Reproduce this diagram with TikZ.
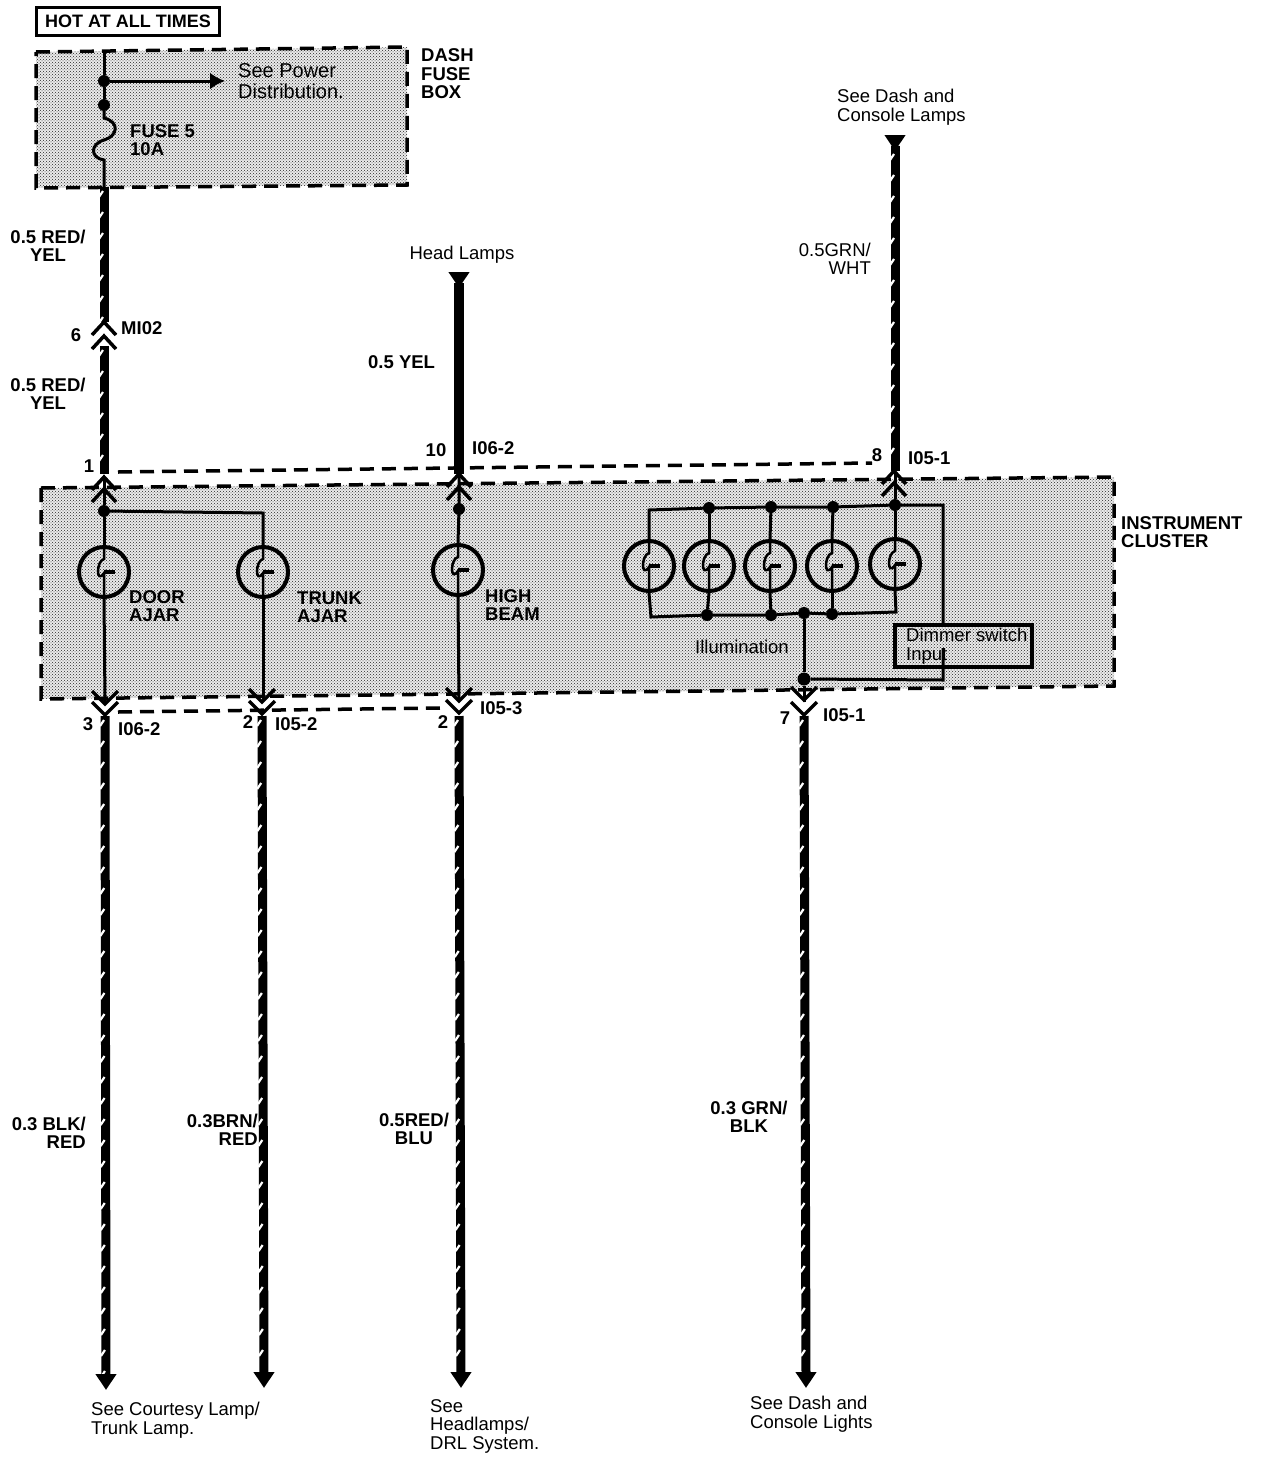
\documentclass[tikz,border=0pt]{standalone}
\usepackage{fontspec}
\setmainfont{Liberation Sans}
\usetikzlibrary{arrows.meta,patterns,decorations.markings}
\tikzset{
	lab/.style={font=\fontsize{18.5}{18.5}\selectfont, inner sep=0pt, align=left},
	blab/.style={lab, font=\fontsize{18.5}{18.5}\selectfont\bfseries},
	shade/.style={preaction={fill=black!8}, pattern=crosshatch dots, pattern color=black!85},
	border/.style={line width=3.5pt, dash pattern=on 14pt off 8pt},
	wire/.style={line width=3pt},
	twisted/.style={line width=9pt, postaction={decorate, decoration={markings,
		mark=between positions 8pt and 1 step 21pt with {\draw[white, line width=2.2pt] (-4pt,-1pt) -- (2pt,-5pt);}}}},
	solidwire/.style={line width=10pt},
	tipend/.style={line width=9pt, -{Triangle[width=20pt,length=16pt]}},
	tipstart/.style={line width=9pt, {Triangle[reversed,width=20pt,length=16pt]}-},
	joint/.style={circle, fill=black, inner sep=0pt, minimum size=12pt},
	lamp/.style={circle, draw, line width=4pt, inner sep=0pt, minimum size=50pt},
	chev/.style={line width=3.5pt}
}
\begin{document}
\begin{tikzpicture}[x=1pt,y=-1pt]
	\useasboundingbox (0,0) rectangle (1264,1462);
	% shaded boxes
	\draw[border, shade] (36,52) -- (407,47) -- (407,185) -- (36,188) -- cycle;
	\draw[border, shade] (41,488) -- (1114,477) -- (1114,686) -- (41,699) -- cycle;
	\draw[border] (118,472) -- (872,463);
	\draw[border] (118,712) -- (442,708);
	\node[draw, line width=3pt, inner sep=0pt, minimum width=183pt, minimum height=28pt, font=\fontsize{18}{18}\selectfont\bfseries] (hot) at (128,21) {HOT AT ALL TIMES};

	% fuse box
	\coordinate (feedtop) at (104,50);
	\node[joint] (feedj) at (104,81) {};
	\node[joint] (fusej) at (104,105) {};
	\coordinate (fuseend) at (104,160);
	\coordinate (boxout) at (104,187);
	\coordinate (powerend) at (225,81);
	\draw[wire] (feedtop) -- (feedj) -- (fusej);
	\draw[wire, -{Latex[length=15pt,width=17pt]}] (feedj) -- (powerend);
	\draw[wire] (fusej) -- (104,118) .. controls (120,122) and (118,136) .. (104,140) .. controls (90,144) and (90,158) .. (fuseend) -- (boxout);

	% lamps
	\node[lamp] (door) at (104,572) {};
	\node[lamp] (trunk) at (263,572) {};
	\node[lamp] (high) at (458,570) {};
	\node[lamp] (illa) at (649,566) {};
	\node[lamp] (illb) at (709,566) {};
	\node[lamp] (illc) at (770,566) {};
	\node[lamp] (illd) at (832,566) {};
	\node[lamp] (ille) at (895,564) {};
	\foreach \l in {door,trunk,high,illa,illb,illc,illd,ille} {
		\draw[line width=2.5pt] (\l.north) -- ++(0,14) .. controls +(-8,2) and +(-8,12) .. ++(0,14) -- (\l.south);
		\draw[line width=4pt] (\l.center) -- ++(11,0);
	}

	% connector pins, upper then lower
	\foreach \x/\y in {104/322,104/336,104/477,104/489,459/474,459/487,894/471,894/483}
		\draw[chev] (\x-12,\y+13) -- (\x,\y) -- (\x+12,\y+13);
	\foreach \x/\y in {105/704,105/715,262/702,262/714,459/701,459/713,804/700,804/715}
		\draw[chev] (\x-13,\y-13) -- (\x,\y) -- (\x+13,\y-13);

	% wires in the cluster
	\node[joint] (doorj) at (104,511) {};
	\node[joint] (highj) at (459,509) {};
	\coordinate (doorin) at (104,478);
	\coordinate (doorout) at (105,702);
	\coordinate (trunkcor) at (263,513);
	\coordinate (trunkout) at (263,701);
	\coordinate (highin) at (459,476);
	\coordinate (highout) at (459,700);
	\draw[wire] (doorin) -- (doorj) -- (door.north);
	\draw[wire] (door.south) -- (doorout);
	\draw[wire] (doorj) -- (trunkcor) -- (trunk.north);
	\draw[wire] (trunk.south) -- (trunkout);
	\draw[wire] (highin) -- (highj) -- (high.north);
	\draw[wire] (high.south) -- (highout);

	\node[joint] (topb) at (709,508) {};
	\node[joint] (topc) at (771,507) {};
	\node[joint] (topd) at (833,507) {};
	\node[joint] (tope) at (895,505) {};
	\node[joint] (lowb) at (707,615) {};
	\node[joint] (lowc) at (771,615) {};
	\node[joint] (lowm) at (804,613) {};
	\node[joint] (lowd) at (832,614) {};
	\node[joint, minimum size=13pt] (illj) at (804,679) {};
	\coordinate (illin) at (895,472);
	\coordinate (illout) at (804,702);
	\coordinate (topleft) at (649,510);
	\coordinate (topright) at (943,505);
	\coordinate (lowleft) at (651,617);
	\coordinate (lowright) at (896,612);
	\coordinate (dimtop) at (943,625);
	\coordinate (dimlow) at (943,648);
	\coordinate (dimcor) at (943,680);
	\draw[wire] (illa.north) -- (topleft) -- (topb) -- (topc) -- (topd) -- (tope) -- (topright) -- (dimtop);
	\draw[wire] (dimlow) -- (dimcor) -- (illj);
	\draw[wire] (illin) -- (tope) -- (ille.north);
	\draw[wire] (topb) -- (illb.north);
	\draw[wire] (topc) -- (illc.north);
	\draw[wire] (topd) -- (illd.north);
	\draw[wire] (illa.south) -- (lowleft) -- (lowb) -- (lowc) -- (lowm) -- (lowd) -- (lowright) -- (ille.south);
	\draw[wire] (illb.south) -- (lowb);
	\draw[wire] (illc.south) -- (lowc);
	\draw[wire] (illd.south) -- (lowd);
	\draw[wire] (lowm) -- (illj) -- (illout);
	\node[draw, line width=3.5pt, minimum width=137pt, minimum height=42pt, inner sep=0pt] (dimbox) at (963.5,646) {};
	\node[lab, anchor=west] (dimtext) at (906,646) {Dimmer switch\\Input};

	% harness
	\coordinate (redtop) at (104,187);
	\coordinate (redmid) at (104,322);
	\coordinate (redlow) at (104,346);
	\coordinate (redin) at (104,474);
	\draw[twisted] (redtop) -- (redmid);
	\draw[twisted] (redlow) -- (redin);
	\coordinate (headtop) at (459,283);
	\coordinate (headtip) at (459,272);
	\coordinate (headlow) at (459,474);
	\draw[tipstart] (headtip) -- (headtop);
	\draw[solidwire] (headtop) -- (headlow);
	\coordinate (grntop) at (895,150);
	\coordinate (grntip) at (895,135);
	\coordinate (grnlow) at (895,471);
	\draw[tipstart] (grntip) -- (grntop);
	\draw[twisted] (grntop) -- (grnlow);
	\foreach \n/\a/\b/\c in {blk/105/106/1390,brn/262/264/1388,blu/459/461/1388,gbk/804/806/1388} {
		\coordinate (\n top) at (\a,716);
		\coordinate (\n low) at (\b,\c-14);
		\coordinate (\n end) at (\b,\c);
		\draw[twisted] (\n top) -- (\n low);
		\draw[tipend] (\n low) -- (\n end);
	}

	% labels
	\node[blab, anchor=west] (dashlab) at (421,74) {DASH\\FUSE\\BOX};
	\node[lab, anchor=west, font=\fontsize{20}{20.5}\selectfont] (powerlab) at (238,81) {See Power\\Distribution.};
	\node[blab, anchor=west] (fuselab) at (130,140) {FUSE 5\\10A};
	\node[lab, anchor=west] (lampslab) at (837,107) {See Dash and\\Console Lamps};
	\node[lab, align=right, anchor=east] (grnlab) at (871,259) {0.5GRN/\\WHT};
	\node[lab] (headlab) at (462,255) {Head Lamps};
	\node[blab, anchor=west] (yellab) at (368,362) {0.5 YEL};
	\node[blab, align=center] (redlaba) at (48,246) {0.5 RED/\\YEL};
	\node[blab, align=center] (redlabb) at (48,394) {0.5 RED/\\YEL};
	\node[blab] (pinsix) at (76,335) {6};
	\node[blab, anchor=west] (mlab) at (121,328) {MI02};
	\node[blab] (pinone) at (89,466) {1};
	\node[blab] (pinten) at (436,450) {10};
	\node[blab, anchor=west] (ilaba) at (472,448) {I06-2};
	\node[blab] (pineight) at (877,455) {8};
	\node[blab, anchor=west] (ilabb) at (908,458) {I05-1};
	\node[blab, anchor=west] (clusterlab) at (1121,532) {INSTRUMENT\\CLUSTER};
	\node[blab, anchor=west] (doorlab) at (129,606) {DOOR\\AJAR};
	\node[blab, anchor=west] (trunklab) at (297,607) {TRUNK\\AJAR};
	\node[blab, anchor=west] (highlab) at (485,605) {HIGH\\BEAM};
	\node[lab, anchor=west] (illlab) at (695,647) {Illumination};
	\node[blab] (pinthree) at (88,724) {3};
	\node[blab, anchor=west] (ilabc) at (118,729) {I06-2};
	\node[blab] (pintwoa) at (248,722) {2};
	\node[blab, anchor=west] (ilabd) at (275,724) {I05-2};
	\node[blab] (pintwob) at (443,722) {2};
	\node[blab, anchor=west] (ilabe) at (480,708) {I05-3};
	\node[blab] (pinseven) at (785,718) {7};
	\node[blab, anchor=west] (ilabf) at (823,715) {I05-1};
	\node[blab, align=right, anchor=east] (blklab) at (86,1133) {0.3 BLK/\\RED};
	\node[blab, align=right, anchor=east] (brnlab) at (258,1130) {0.3BRN/\\RED};
	\node[blab, align=center] (blulab) at (414,1129) {0.5RED/\\BLU};
	\node[blab, align=center] (gbklab) at (749,1117) {0.3 GRN/\\BLK};
	\node[lab, anchor=west] (courtlab) at (91,1420) {See Courtesy Lamp/\\Trunk Lamp.};
	\node[lab, anchor=west] (drllab) at (430,1426) {See\\Headlamps/\\DRL System.};
	\node[lab, anchor=west] (lightlab) at (750,1414) {See Dash and\\Console Lights};
\end{tikzpicture}
\end{document}
